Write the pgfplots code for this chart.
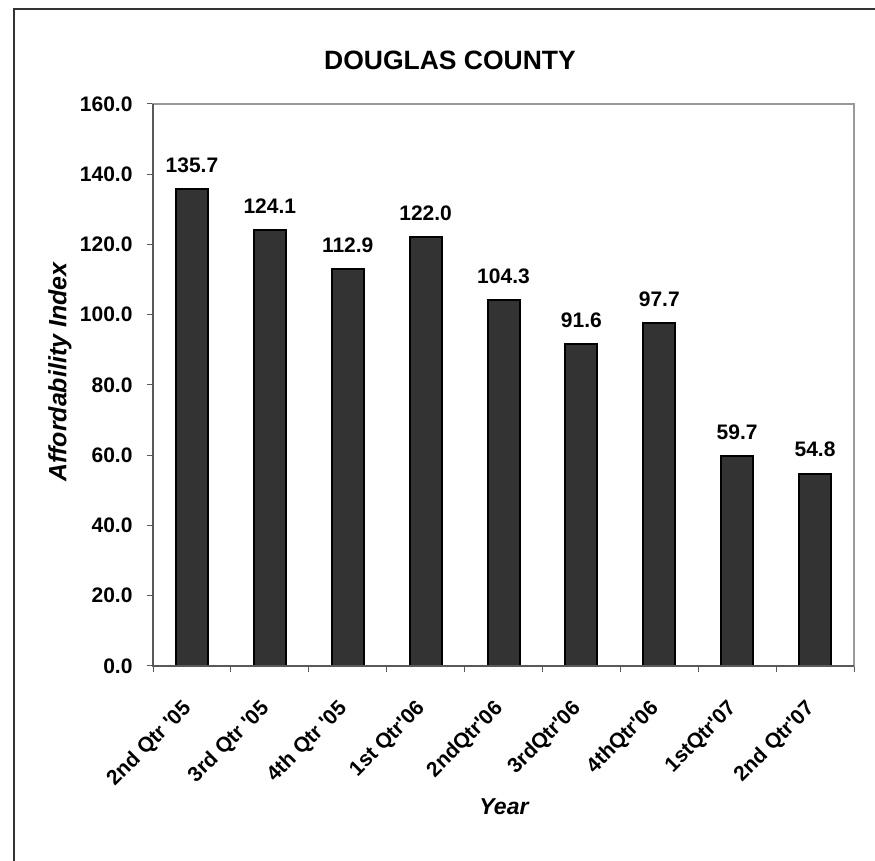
\documentclass[border=0pt]{standalone}
\usepackage{fontspec}
\setmainfont{Liberation Sans}
\usepackage{pgfplots}
\pgfplotsset{compat=1.18}
\definecolor{barfill}{HTML}{333333}
\definecolor{framegray}{HTML}{999999}
\definecolor{axisgray}{HTML}{595959}
\newcommand\q{\textquotesingle}

\begin{document}
\begin{tikzpicture}[x=1pt,y=1pt]
  \useasboundingbox (0,0) rectangle (875,861);
  % outer chart frame (cut off at right and bottom)
  \draw[line width=2.5pt, color=black!80] (14,-10) rectangle (890,852);
  \node[font=\bfseries\fontsize{26.5}{30}\selectfont] at (450,801) {DOUGLAS COUNTY};
  \node[font=\bfseries\itshape\fontsize{25}{28}\selectfont, rotate=90] at (60,489) {Affordability Index};
  \node[font=\bfseries\itshape\fontsize{23}{26}\selectfont] at (504,54) {Year};
  \begin{axis}[
    at={(153pt,195pt)}, anchor=south west,
    scale only axis, width=701pt, height=562pt,
    xmin=-0.5, xmax=8.5, ymin=0, ymax=160,
    ybar, bar width=32pt,
    axis line style={framegray, line width=2pt},
    xtick={-0.5,0.5,...,8.5},
    x tick label as interval,
    xticklabels={{2nd Qtr \q05},{3rd Qtr \q05},{4th Qtr \q05},{1st Qtr\q06},{2ndQtr\q06},{3rdQtr\q06},{4thQtr\q06},{1stQtr\q07},{2nd Qtr\q07}},
    ytick={0,20,...,160},
    xtick pos=bottom, ytick pos=left,
    tick align=outside, major tick length=6pt,
    tick style={axisgray, line width=1pt},
    ticklabel style={font=\bfseries\fontsize{21}{24}\selectfont},
    yticklabel style={xshift=-11pt, /pgf/number format/.cd, fixed, fixed zerofill, precision=1, assume math mode=true},
    xticklabel style={rotate=45, anchor=east, xshift=-23pt, yshift=-21pt},
    nodes near coords={\pgfmathprintnumber[fixed,fixed zerofill,precision=1]{\pgfplotspointmeta}},
    every node near coord/.append style={font=\bfseries\fontsize{21}{24}\selectfont, yshift=12pt},
    /pgf/number format/assume math mode=true,
    clip=false,
  ]
    \addplot[fill=barfill, draw=black, line width=2pt] coordinates {
      (0,135.7)
      (1,124.1)
      (2,112.9)
      (3,122.0)
      (4,104.3)
      (5,91.6)
      (6,97.7)
      (7,59.7)
      (8,54.8)
    };
    % darker left and bottom axis lines, as in the original
    \draw[axisgray, line width=2pt] (rel axis cs:0,1) -- (rel axis cs:0,0) -- (rel axis cs:1,0);
  \end{axis}
\end{tikzpicture}
\end{document}
